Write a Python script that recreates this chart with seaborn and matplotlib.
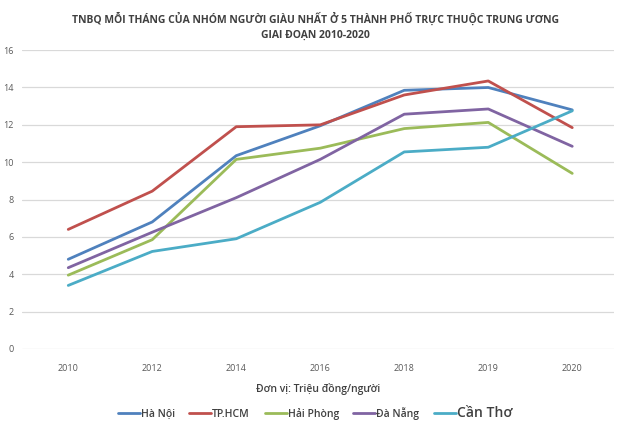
import pandas as pd
import matplotlib
matplotlib.use('Agg')
import matplotlib.pyplot as plt
import seaborn as sns

# Data (triệu đồng/người)
years = ['2010', '2012', '2014', '2016', '2018', '2019', '2020']
ha_noi = [4.8, 6.8, 10.35, 11.95, 13.85, 14.0, 12.8]
tp_hcm = [6.4, 8.45, 11.9, 12.0, 13.6, 14.35, 11.85]
hai_phong = [3.95, 5.85, 10.15, 10.75, 11.8, 12.13, 9.4]
da_nang = [4.35, 6.25, 8.1, 10.15, 12.57, 12.85, 10.85]
can_tho = [3.4, 5.22, 5.9, 7.85, 10.55, 10.8, 12.75]

cities = ['Hà Nội', 'TP.HCM', 'Hải Phòng', 'Đà Nẵng', 'Cần Thơ']
colors = ['#4F81BD', '#C0504D', '#9BBB59', '#8064A2', '#4BACC6']
series = [ha_noi, tp_hcm, hai_phong, da_nang, can_tho]

rows = []
for city, vals in zip(cities, series):
    for y, v in zip(years, vals):
        rows.append({'year': y, 'value': v, 'city': city})
df = pd.DataFrame(rows)

sns.set_theme(style='white')
plt.rcParams['font.family'] = ['Open Sans', 'DejaVu Sans']

fig = plt.figure(figsize=(6.3, 4.25), dpi=100)
ax = fig.add_axes([0.035, 0.179, 0.94, 0.703])

sns.lineplot(data=df, x='year', y='value', hue='city', hue_order=cities,
             palette=colors, sort=False, linewidth=2, ax=ax, legend=False)

ax.set_ylim(0, 16)
ax.set_yticks(range(0, 17, 2))
ax.set_xlim(-0.55, 6.5)
ax.yaxis.grid(True, color='#D9D9D9', linewidth=0.9)
ax.set_axisbelow(True)
for s in ax.spines.values():
    s.set_visible(False)
ax.tick_params(axis='both', length=0, labelsize=6.5, labelcolor='#595959', pad=6)
ax.tick_params(axis='x', pad=11)
ax.set_xlabel('Đơn vị: Triệu đồng/người', fontsize=7.5, color='#404040',
              fontweight='semibold', labelpad=7)
ax.set_ylabel('')

fig.text(0.5, 0.955, 'TNBQ MỖI THÁNG CỦA NHÓM NGƯỜI GIÀU NHẤT Ở 5 THÀNH PHỐ TRỰC THUỘC TRUNG ƯƠNG',
         ha='center', va='center', fontsize=7.5, fontweight='bold', color='#404040')
fig.text(0.5, 0.916, 'GIAI ĐOẠN 2010-2020',
         ha='center', va='center', fontsize=7.5, fontweight='bold', color='#404040')

handles = [plt.Line2D([], [], color=c, linewidth=2) for c in colors]
leg = fig.legend(handles, cities, loc='center', bbox_to_anchor=(0.5, 0.028), ncol=5,
                 frameon=False, fontsize=7.5, handlelength=2.1, handletextpad=0.1,
                 columnspacing=1.4)
for t in leg.get_texts():
    t.set_color('#404040')
    t.set_fontweight('semibold')
leg.get_texts()[-1].set_fontsize(10)

fig.savefig('out.png', dpi=100)
